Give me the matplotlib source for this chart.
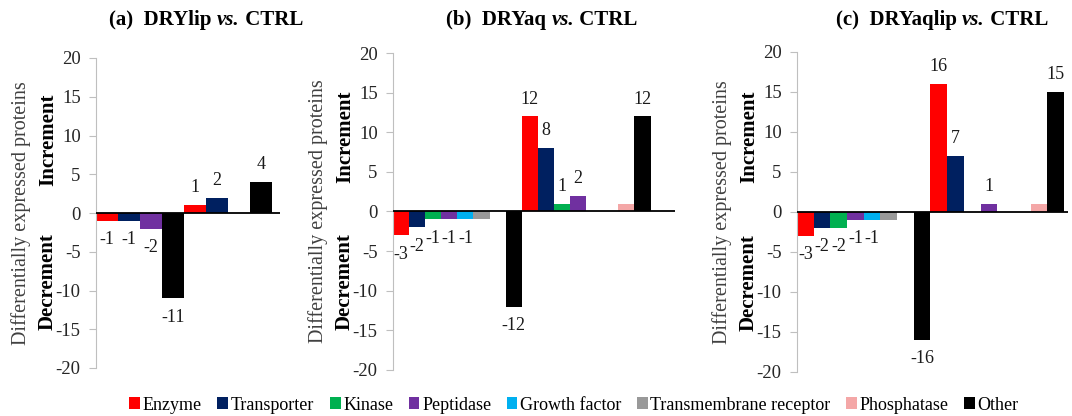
import matplotlib
matplotlib.use("Agg")
import matplotlib.pyplot as plt
from matplotlib.offsetbox import TextArea, HPacker, AnchoredOffsetbox
from matplotlib.patches import Patch

plt.rcParams['font.family'] = ['Liberation Serif', 'DejaVu Serif']

series_all = ["Enzyme", "Transporter", "Kinase", "Peptidase", "Growth factor",
              "Transmembrane receptor", "Phosphatase", "Other"]
colors = {"Enzyme": "#FF0000", "Transporter": "#002060", "Kinase": "#00B050",
          "Peptidase": "#7030A0", "Growth factor": "#00B0F0",
          "Transmembrane receptor": "#999999", "Phosphatase": "#F4A7A7",
          "Other": "#000000"}
no_label = {"Transmembrane receptor", "Phosphatase"}

# Panel (a)
a_series = ["Enzyme", "Transporter", "Peptidase", "Other"]
a_dec = [-1, -1, -2, -11]
a_inc = [1, 2, 0, 4]
# Panel (b)
b_series = series_all
b_dec = [-3, -2, -1, -1, -1, -1, 0, -12]
b_inc = [12, 8, 1, 2, 0, 0, 1, 12]
# Panel (c)
c_series = series_all
c_dec = [-3, -2, -2, -1, -1, -1, 0, -16]
c_inc = [16, 7, 0, 1, 0, 0, 1, 15]

titles = [("(a)  DRYlip ", "vs.", " CTRL"),
          ("(b)  DRYaq ", "vs.", " CTRL"),
          ("(c)  DRYaqlip ", "vs.", " CTRL")]
yticks = [-20, -15, -10, -5, 0, 5, 10, 15, 20]

W, H = 1072, 416
fig = plt.figure(figsize=(W / 100, H / 100), dpi=100)

# axes rectangles in pixels: left, right, top, bottom
rects = [(96, 280, 58, 368), (393, 675, 53, 370), (797, 1068, 52, 372)]
xmaxs = [2.09, 2.19, 2.03]
title_x = [206, 542, 942]

panels = [(a_series, a_dec, a_inc), (b_series, b_dec, b_inc), (c_series, c_dec, c_inc)]

for k, ((ser, dec, inc), (l, r, t, b)) in enumerate(zip(panels, rects)):
    ax = fig.add_axes([l / W, 1 - b / H, (r - l) / W, (b - t) / H])
    n = len(ser)
    for c, vals in enumerate([dec, inc]):
        for i, (name, v) in enumerate(zip(ser, vals)):
            if v == 0:
                continue
            x = c + (i + 0.5) / n
            ax.bar(x, v, width=1 / n, color=colors[name], linewidth=0, zorder=2)
            if name not in no_label:
                off = 12.5 if v > 0 else -13.5
                ax.annotate(str(v), xy=(x, v), xytext=(0, off), textcoords='offset points',
                            ha='center', va='center', fontsize=13, color='#1a1a1a')
    ax.axhline(0, color='black', lw=1.3, zorder=3)
    ax.set_xlim(0, xmaxs[k])
    ax.set_ylim(-20, 20)
    ax.set_yticks(yticks)
    ax.set_yticklabels([str(v) for v in yticks], fontsize=13.5, color='#262626')
    ax.tick_params(axis='y', length=5, width=0.8, color='#BFBFBF', pad=6)
    ax.set_xticks([])
    for s in ['top', 'right', 'bottom']:
        ax.spines[s].set_visible(False)
    ax.spines['left'].set_color('#BFBFBF')
    ax.spines['left'].set_linewidth(0.8)
    ax.patch.set_alpha(0)

    ax.annotate("Differentially expressed proteins", xy=(0, 0.5), xycoords='axes fraction',
                xytext=(-75 * 0.72, 0), textcoords='offset points', rotation=90,
                ha='center', va='center', fontsize=14.5, color='#404040')
    ax.annotate("Increment", xy=(0, 0.735), xycoords='axes fraction',
                xytext=(-48 * 0.72, 0), textcoords='offset points', rotation=90,
                ha='center', va='center', fontsize=15, fontweight='bold', color='black')
    ax.annotate("Decrement", xy=(0, 0.28), xycoords='axes fraction',
                xytext=(-48 * 0.72, 0), textcoords='offset points', rotation=90,
                ha='center', va='center', fontsize=15, fontweight='bold', color='black')

    t1, t2, t3 = titles[k]
    boxes = [TextArea(t1, textprops=dict(fontsize=15, fontweight='bold')),
             TextArea(t2, textprops=dict(fontsize=15, fontweight='bold', fontstyle='italic')),
             TextArea(t3, textprops=dict(fontsize=15, fontweight='bold'))]
    pack = HPacker(children=boxes, align='baseline', pad=0, sep=0)
    anch = AnchoredOffsetbox(loc='center', child=pack, pad=0, frameon=False,
                             bbox_to_anchor=(title_x[k] / W, 1 - 20 / H),
                             bbox_transform=fig.transFigure, borderpad=0)
    fig.add_artist(anch)

handles = [Patch(facecolor=colors[s], edgecolor='none', label=s) for s in series_all]
fig.legend(handles=handles, loc='center', bbox_to_anchor=(574 / W, 1 - 405 / H),
           ncol=8, frameon=False, fontsize=13, handlelength=0.6, handleheight=0.6,
           handletextpad=0.15, columnspacing=0.85, borderpad=0)

fig.savefig("out.png", dpi=100)
